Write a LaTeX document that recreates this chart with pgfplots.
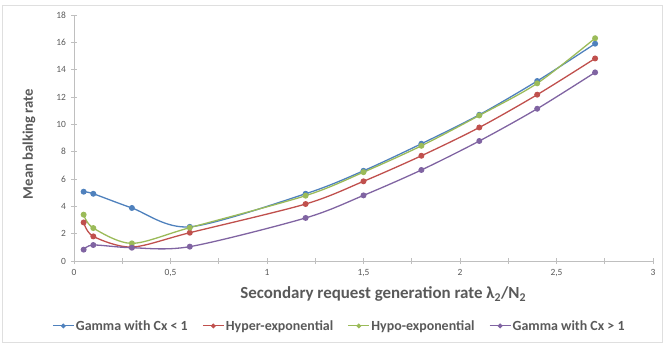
\documentclass[border=0pt]{standalone}
\usepackage{fontspec}
\setmainfont{Carlito}
\usepackage{pgfplots}
\pgfplotsset{compat=1.18}
\definecolor{cblue}{HTML}{4F81BD}
\definecolor{cred}{HTML}{C0504D}
\definecolor{cgreen}{HTML}{9BBB59}
\definecolor{cpurple}{HTML}{8064A2}
\definecolor{txt}{HTML}{595959}
\definecolor{axl}{HTML}{BFBFBF}
\begin{document}
\begin{tikzpicture}
\useasboundingbox (0,0) rectangle (664bp,345bp);
\draw[gray!25, line width=0.8bp] (2bp,3bp) rectangle (662bp,340bp);
\begin{axis}[
  at={(74bp,84bp)}, anchor=south west,
  scale only axis, width=579bp, height=246bp,
  xmin=0, xmax=3, ymin=0, ymax=18,
  axis lines*=left,
  axis line style={axl, line width=0.8bp, -},
  xtick={0,0.5,...,3}, minor xtick={0.25,0.75,...,2.75},
  ytick={0,2,...,18},
  tick align=center,
  major tick length=5bp, minor tick length=5bp,
  tick style={axl, line width=0.8bp},
  every tick label/.append style={font=\fontsize{9.5}{11}\selectfont, text=txt},
  /pgf/number format/assume math mode=true,
  /pgf/number format/use comma,
  yticklabel style={xshift=-2bp},
  xticklabel style={yshift=-2bp},
  xlabel={Secondary request generation rate λ\textsubscript{2}/N\textsubscript{2}},
  ylabel={Mean balking rate},
  xlabel style={font=\bfseries\fontsize{17}{19}\selectfont, text=txt, at={(axis description cs:0.534,0)}, anchor=center, yshift=-33bp},
  ylabel style={font=\bfseries\fontsize{14.7}{17}\selectfont, text=txt, at={(axis description cs:-0.0777,0.476)}, anchor=center},
  legend style={at={(axis description cs:0.458,-0.264)}, anchor=center, draw=none, fill=none, font=\bfseries\fontsize{14}{16}\selectfont, text=txt, nodes={inner xsep=1.5bp}, /tikz/every even column/.append style={column sep=13bp}},
  legend columns=4,
  legend image code/.code={\draw[#1, line width=1.1bp, mark repeat=2, mark phase=2, mark size=1.8bp] plot coordinates {(0bp,0bp) (10.5bp,0bp) (21bp,0bp)};},
  every axis plot/.append style={line width=1.3bp, smooth, tension=0.5, mark=*, mark size=2.3bp},
]
\addplot[cblue, mark options={fill=cblue}] coordinates {
(0.05,5.07) (0.1,4.92) (0.3,3.88) (0.6,2.5) (1.2,4.92) (1.5,6.6) (1.8,8.58) (2.1,10.7) (2.4,13.17) (2.7,15.9)};
\addlegendentry{Gamma with Cx < 1}
\addplot[cred, mark options={fill=cred}] coordinates {
(0.05,2.82) (0.1,1.8) (0.3,1.02) (0.6,2.07) (1.2,4.17) (1.5,5.83) (1.8,7.7) (2.1,9.77) (2.4,12.17) (2.7,14.82)};
\addlegendentry{Hyper-exponential}
\addplot[cgreen, mark options={fill=cgreen}] coordinates {
(0.05,3.39) (0.1,2.41) (0.3,1.29) (0.6,2.44) (1.2,4.78) (1.5,6.5) (1.8,8.43) (2.1,10.65) (2.4,13.0) (2.7,16.3)};
\addlegendentry{Hypo-exponential}
\addplot[cpurple, mark options={fill=cpurple}] coordinates {
(0.05,0.83) (0.1,1.17) (0.3,0.97) (0.6,1.05) (1.2,3.15) (1.5,4.8) (1.8,6.66) (2.1,8.78) (2.4,11.14) (2.7,13.8)};
\addlegendentry{Gamma with Cx > 1}
\end{axis}
\end{tikzpicture}
\end{document}
